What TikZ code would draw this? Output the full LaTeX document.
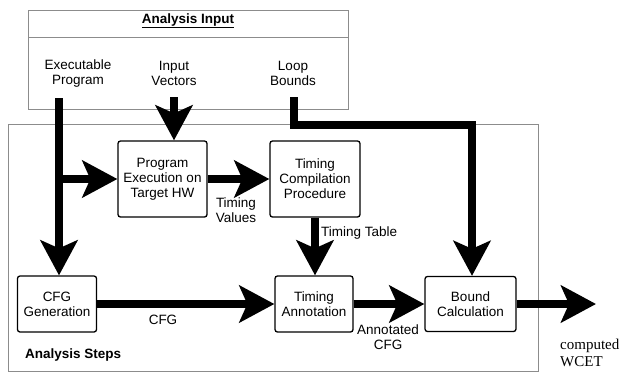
\documentclass[tikz,border=0pt]{standalone}
\usepackage{fontspec}
\setmainfont{Liberation Sans}
\newfontfamily\wcetfont{Liberation Serif}
\usetikzlibrary{arrows.meta}
\tikzset{
  stepbox/.style={draw, line width=1.3pt, rounded corners=2.5pt, align=center, inner sep=0pt},
  flow/.style={line width=7.5pt, -{Stealth[length=35pt,width=37pt,inset=8pt]}},
  frame/.style={draw=black!45, line width=0.9pt},
  lbl/.style={align=center, inner sep=0pt},
  heading/.style={lbl, font=\fontsize{13.5}{15}\selectfont\bfseries},
}

\begin{document}
\begin{tikzpicture}[x=1pt, y=-1pt, font=\fontsize{13.5}{15}\selectfont]
  \useasboundingbox (0,0) rectangle (623,373);
  % frames
  \draw[frame] (28,10) rectangle (348,109);
  \draw[frame] (28,37) -- (348,37);
  \draw[frame] (8,124) rectangle (538,371);
  \node[heading] (intitle) at (188,21) {\underline{Analysis Input}};
  \node[heading, anchor=west] (steps) at (25,355) {Analysis Steps};

  % inputs
  \node[lbl] (prog) at (78,73.5) {Executable\\Program};
  \node[lbl] (vec) at (174,73.5) {Input\\Vectors};
  \node[lbl] (loop) at (293,73.5) {Loop\\Bounds};
  \coordinate (progout) at (59,98);
  \coordinate (vecout) at (174,97);
  \coordinate (loopout) at (294,97);
  \coordinate (bend) at (472,125);
  \coordinate (wcet) at (596,304);

  % steps
  \node[stepbox, minimum width=89pt, minimum height=76pt] (exec) at (162.5,179) {Program\\Execution on\\Target HW};
  \node[stepbox, minimum width=90pt, minimum height=76pt] (tcp) at (315,179) {Timing\\Compilation\\Procedure};
  \node[stepbox, minimum width=79pt, minimum height=56pt] (cfg) at (57,304) {CFG\\Generation};
  \node[stepbox, minimum width=78pt, minimum height=56pt] (tann) at (314,304) {Timing\\Annotation};
  \node[stepbox, minimum width=91pt, minimum height=55pt] (bound) at (470.5,304) {Bound\\Calculation};

  % flows
  \draw[flow] (progout) -- (progout |- cfg.north);
  \draw[flow] (progout |- exec.west) -- (exec.west);
  \draw[flow] (vecout) -- (vecout |- exec.north);
  \draw[flow] (exec.east) -- (tcp.west);
  \draw[flow] (tcp.south) -- (tcp.south |- tann.north);
  \draw[flow] (cfg.east) -- (tann.west);
  \draw[flow] (tann.east) -- (bound.west);
  \draw[flow] (bound.east) -- (wcet);
  \draw[flow] (loopout) |- (bend) -- (bend |- bound.north);

  % flow labels
  \node[lbl] (tval) at (236,210.5) {Timing\\Values};
  \node[lbl, anchor=west] (ttab) at (321,233) {Timing Table};
  \node[lbl] (cfglbl) at (163,320) {CFG};
  \node[lbl] (annlbl) at (388,337) {Annotated\\CFG};
  \node[lbl, anchor=north west, align=left, font=\wcetfont\fontsize{15}{17}\selectfont] (wcetlbl) at (560,339) {computed\\WCET};
\end{tikzpicture}
\end{document}
